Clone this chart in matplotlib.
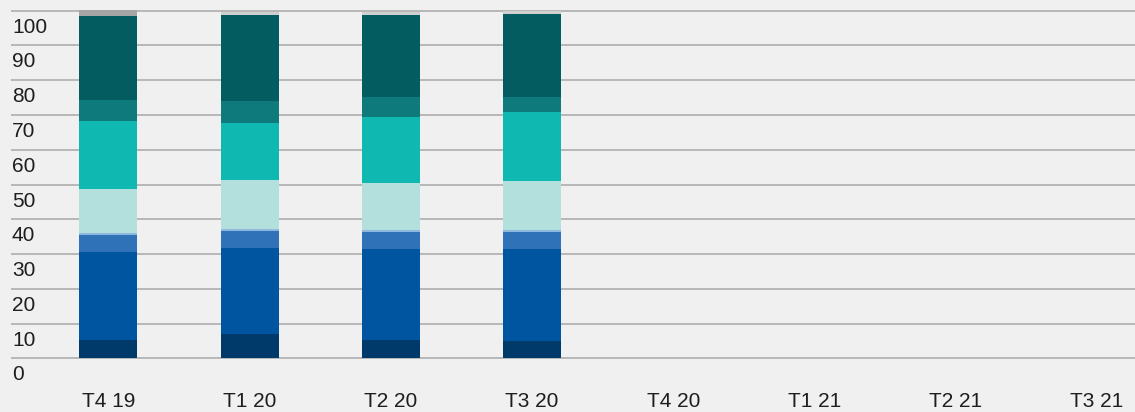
import numpy as np
import matplotlib
matplotlib.use("Agg")
import matplotlib.pyplot as plt
import matplotlib.transforms as mtransforms

# categories (quarters) - only the first four carry data
quarters = ["T4 19", "T1 20", "T2 20", "T3 20", "T4 20", "T1 21", "T2 21", "T3 21"]

# stacked segments, bottom to top (values in %)
seg_navy = [5.3, 7.0, 5.3, 5.0]
seg_blue = [25.3, 24.7, 26.1, 26.4]
seg_blue_light = [4.9, 4.9, 4.9, 4.9]
seg_blue_pale = [0.5, 0.5, 0.6, 0.6]
seg_mint = [12.7, 14.2, 13.5, 14.0]
seg_teal = [19.6, 16.4, 19.1, 19.9]
seg_teal_mid = [6.0, 6.3, 5.7, 4.4]
seg_teal_dark = [24.3, 24.8, 23.6, 23.9]
seg_grey_light = [0.0, 0.9, 0.9, 0.9]
seg_grey_dark = [1.5, 0.0, 0.0, 0.0]

series = [seg_navy, seg_blue, seg_blue_light, seg_blue_pale, seg_mint,
          seg_teal, seg_teal_mid, seg_teal_dark, seg_grey_light, seg_grey_dark]
colors = ["#003a6b", "#0055a0", "#3072b8", "#8fb8e0", "#b3e0dc",
          "#0fb9b1", "#0e7a7c", "#035c60", "#d0d0d0", "#a5a5a5"]

yticks = [0, 10, 20, 30, 40, 50, 60, 70, 80, 90, 100]

bg = "#f0f0f0"
fig = plt.figure(figsize=(11.35, 4.12), dpi=100, facecolor=bg)
ax = fig.add_axes([11 / 1135, 0.1218, 1 - 11 / 1135, 0.9825 - 0.1218])
ax.set_facecolor(bg)

x = np.arange(len(series[0]))
bottom = np.zeros(len(x))
for vals, col in zip(series, colors):
    vals = np.array(vals)
    ax.bar(x, vals, width=0.41, bottom=bottom, color=col, linewidth=0, zorder=3)
    bottom += vals

ax.set_xlim(-0.69, 7.27)
ax.set_ylim(-1, 101)

# horizontal grid
ax.set_yticks(yticks)
ax.yaxis.grid(True, color="#a8a8a8", linewidth=1.1, zorder=0)
ax.set_axisbelow(True)
ax.tick_params(axis="y", length=0, labelleft=False)

# y labels sit inside, left aligned, just under each grid line
off = mtransforms.ScaledTranslation(0.01, -0.165, fig.dpi_scale_trans)
trans = mtransforms.blended_transform_factory(ax.transAxes, ax.transData) + off
for v in yticks:
    ax.text(0, v, str(v), transform=trans, ha="left", va="center",
            fontsize=15, color="#1e1e1e", family="Liberation Sans")

ax.set_xticks(np.arange(len(quarters)))
ax.set_xticklabels(quarters, fontsize=15, color="#1e1e1e", family="Liberation Sans")
ax.tick_params(axis="x", length=0, pad=22)

for s in ax.spines.values():
    s.set_visible(False)

fig.savefig("out.png", dpi=100, facecolor=bg)
